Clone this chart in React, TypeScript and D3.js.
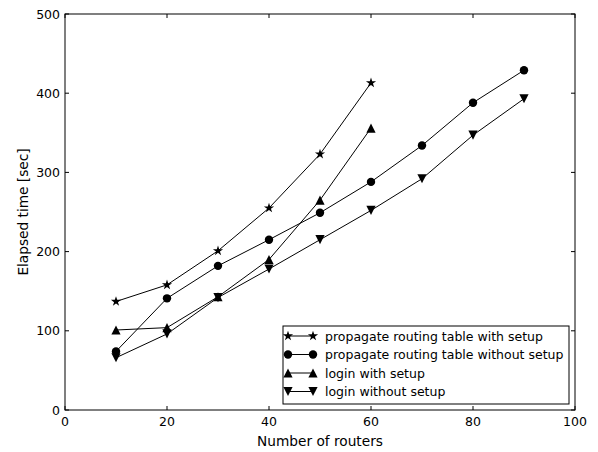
import React from "react";
import * as d3 from "d3";

const routersA = [10, 20, 30, 40, 50, 60];
const routersB = [10, 20, 30, 40, 50, 60, 70, 80, 90];
const propWithSetup = [137, 158, 201, 255, 323, 413];
const propWithoutSetup = [74, 141, 182, 215, 249, 288, 334, 388, 429];
const loginWithSetup = [101, 104, 143, 190, 265, 356];
const loginWithoutSetup = [66, 96, 142, 178, 215, 252, 292, 347, 393];
const xTicks = [0, 20, 40, 60, 80, 100];
const yTicks = [0, 100, 200, 300, 400, 500];

const seriesNames = [
  "propagate routing table with setup",
  "propagate routing table without setup",
  "login with setup",
  "login without setup",
];

type Marker = "star" | "circle" | "up" | "down";
const series: { name: string; xs: number[]; ys: number[]; marker: Marker }[] = [
  { name: seriesNames[0], xs: routersA, ys: propWithSetup, marker: "star" },
  { name: seriesNames[1], xs: routersB, ys: propWithoutSetup, marker: "circle" },
  { name: seriesNames[2], xs: routersA, ys: loginWithSetup, marker: "up" },
  { name: seriesNames[3], xs: routersB, ys: loginWithoutSetup, marker: "down" },
];

const W = 598, H = 452;
const L = 65, R = 575, T = 14, B = 410;
const FONT = "DejaVu Sans, sans-serif";
const FS = 12.5;
const FS_LABEL = 13.7;

function MarkerShape({ type, x, y }: { type: Marker; x: number; y: number }) {
  if (type === "circle") return <circle cx={x} cy={y} r={4.2} fill="#000" />;
  if (type === "star") {
    const p = d3.symbol().type(d3.symbolStar).size(32)();
    return <path d={p || ""} transform={`translate(${x},${y})`} fill="#000" />;
  }
  const s = 4.6;
  if (type === "up")
    return <path d={`M${x},${y - s} L${x + s},${y + s} L${x - s},${y + s} Z`} fill="#000" />;
  return <path d={`M${x},${y + s} L${x + s},${y - s} L${x - s},${y - s} Z`} fill="#000" />;
}

export default function App() {
  const x = d3.scaleLinear().domain([0, 100]).range([L, R]);
  const y = d3.scaleLinear().domain([0, 500]).range([B, T]);
  const line = d3.line<[number, number]>().x((d) => x(d[0])).y((d) => y(d[1]));

  const legX = 283, legY = 326, legW = 286, legH = 78;
  const rowY = [336, 354.5, 373, 391.5];

  return (
    <svg width={W} height={H} style={{ position: "absolute", left: 0, top: 0, background: "#fff" }}>
      <rect x={0} y={0} width={W} height={H} fill="#fff" />
      {series.map((s, i) => (
        <g key={i}>
          <path
            d={line(s.xs.map((v, j) => [v, s.ys[j]] as [number, number])) || ""}
            fill="none"
            stroke="#000"
            strokeWidth={1}
          />
          {s.xs.map((v, j) => (
            <MarkerShape key={j} type={s.marker} x={x(v)} y={y(s.ys[j])} />
          ))}
        </g>
      ))}
      {xTicks.map((t) => (
        <g key={"x" + t}>
          <line x1={x(t)} x2={x(t)} y1={B} y2={B - 4} stroke="#000" strokeWidth={1} />
          <line x1={x(t)} x2={x(t)} y1={T} y2={T + 4} stroke="#000" strokeWidth={1} />
          <text x={x(t)} y={426} textAnchor="middle" fontFamily={FONT} fontSize={FS} fill="#000">
            {t}
          </text>
        </g>
      ))}
      {yTicks.map((t) => (
        <g key={"y" + t}>
          <line x1={L} x2={L + 4} y1={y(t)} y2={y(t)} stroke="#000" strokeWidth={1} />
          <line x1={R} x2={R - 4} y1={y(t)} y2={y(t)} stroke="#000" strokeWidth={1} />
          <text x={60} y={y(t) + 4.5} textAnchor="end" fontFamily={FONT} fontSize={FS} fill="#000">
            {t}
          </text>
        </g>
      ))}
      <rect x={L} y={T} width={R - L} height={B - T} fill="none" stroke="#000" strokeWidth={1} />
      <text x={(L + R) / 2} y={446} textAnchor="middle" fontFamily={FONT} fontSize={FS_LABEL} fill="#000">
        Number of routers
      </text>
      <text
        transform={`translate(28,${(T + B) / 2}) rotate(-90)`}
        textAnchor="middle"
        fontFamily={FONT}
        fontSize={FS_LABEL}
        fill="#000"
      >
        Elapsed time [sec]
      </text>
      <rect x={legX} y={legY} width={legW} height={legH} fill="#fff" stroke="#000" strokeWidth={1} />
      {series.map((s, i) => (
        <g key={"l" + i}>
          <line x1={288} x2={313} y1={rowY[i]} y2={rowY[i]} stroke="#000" strokeWidth={1} />
          <MarkerShape type={s.marker} x={288} y={rowY[i]} />
          <MarkerShape type={s.marker} x={313} y={rowY[i]} />
          <text x={325} y={rowY[i] + 4.5} fontFamily={FONT} fontSize={FS} fill="#000">
            {s.name}
          </text>
        </g>
      ))}
    </svg>
  );
}
